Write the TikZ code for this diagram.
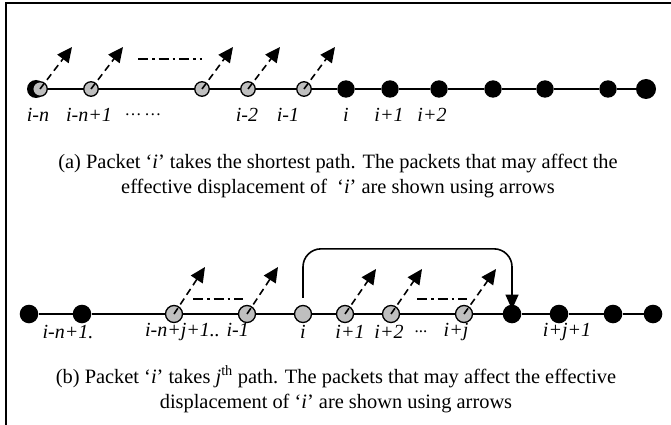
\documentclass[tikz,border=0pt]{standalone}
\usepackage{fontspec}
\setmainfont{Liberation Serif}
\usetikzlibrary{arrows.meta}

\begin{document}
\begin{tikzpicture}[x=1pt,y=-1pt,
  blk/.style={circle,fill=black,inner sep=0pt,minimum size=17.4pt},
  blkbig/.style={circle,fill=black,inner sep=0pt,minimum size=20pt},
  grya/.style={circle,fill=black!25,draw=black,line width=1.3pt,inner sep=0pt,minimum size=14.5pt},
  gryb/.style={circle,fill=black!25,draw=black,line width=1.3pt,inner sep=0pt,minimum size=17pt},
  chain/.style={line width=1.8pt},
  moveto/.style={line width=1.6pt,dash pattern=on 7pt off 4.5pt,
    -{Triangle[length=15pt,width=14pt]}},
  jump/.style={line width=1.6pt,rounded corners=18pt,
    -{Triangle[length=15pt,width=13pt]}},
  dotdash/.style={line width=1.6pt,dash pattern=on 10pt off 4pt on 2.5pt off 4pt},
  lbl/.style={font=\fontsize{20}{22}\selectfont\itshape,inner sep=0pt},
  captext/.style={font=\fontsize{20.4}{25}\selectfont,align=center,inner sep=0pt}]

\useasboundingbox (0,0) rectangle (671,425);

% frame: top rule and left rule
\draw[line width=2.2pt] (5,3) -- (671,3);
\draw[line width=2.2pt] (6,3) -- (6,425);

% ---------------- (a) shortest path ----------------
\node[blk,minimum size=18pt] (a0) at (36,89) {};
\node[grya] (a1) at (40,89) {};
\node[grya] (a2) at (91,89) {};
\node[grya] (a3) at (202,89) {};
\node[grya] (a4) at (248,89) {};
\node[grya] (a5) at (304,89) {};
\node[blk] (a6) at (346,89) {};
\node[blk] (a7) at (390,89) {};
\node[blk] (a8) at (439,89) {};
\node[blk] (a9) at (493,89) {};
\node[blk] (a10) at (545,89) {};
\node[blk] (a11) at (608,89) {};
\node[blkbig] (a12) at (646,89) {};

\foreach \p/\q in {a1/a2,a2/a3,a3/a4,a4/a5,a5/a6,a6/a7,a7/a8,a8/a9,a9/a10,a10/a11,a11/a12}
  \draw[chain] (\p) -- (\q);

\coordinate (ta1) at (72,47);
\coordinate (ta2) at (123,47);
\coordinate (ta3) at (233,47);
\coordinate (ta4) at (280,47);
\coordinate (ta5) at (335,47);
\foreach \n in {1,...,5}
  \draw[moveto] (a\n.center) -- (ta\n);

\coordinate (da1) at (138,59);
\coordinate (da2) at (202,59);
\draw[dotdash] (da1) -- (da2);

\node[lbl] (la1) at (38,115) {i-n};
\node[lbl] (la2) at (89,115) {i-n+1};
\node[lbl] (la3) at (143,115) {\upshape\fontsize{17}{18}\selectfont …\,…};
\node[lbl] (la4) at (247,115) {i-2};
\node[lbl] (la5) at (288,115) {i-1};
\node[lbl] (la6) at (346,115) {i};
\node[lbl] (la7) at (389,115) {i+1};
\node[lbl] (la8) at (432,115) {i+2};

\node[captext] (capa) at (338,176) {(a) Packet ‘\textit{i}’ takes the shortest path. The packets that may affect the\\
effective displacement of \ ‘\textit{i}’ are shown using arrows};

% ---------------- (b) j-th path ----------------
\node[blk,minimum size=18.6pt] (b1) at (29,314) {};
\node[blk,minimum size=18.6pt] (b2) at (82,314) {};
\node[gryb] (b3) at (174,314) {};
\node[gryb] (b4) at (247,314) {};
\node[gryb] (b5) at (303,314) {};
\node[gryb] (b6) at (345,314) {};
\node[gryb] (b7) at (391,314) {};
\node[gryb] (b8) at (464,314) {};
\node[blk,minimum size=18.6pt] (b9) at (512,314) {};
\node[blk,minimum size=18.6pt] (b10) at (559,314) {};
\node[blk,minimum size=18.6pt] (b11) at (613,314) {};
\node[blk,minimum size=18.6pt] (b12) at (653,314) {};

\foreach \p/\q in {b1/b2,b2/b3,b3/b4,b4/b5,b5/b6,b6/b7,b7/b8,b8/b9,b9/b10,b10/b11,b11/b12}
  \draw[chain] (\p) -- (\q);

\coordinate (tb3) at (205,267);
\coordinate (tb4) at (278,267);
\coordinate (tb6) at (376,269);
\coordinate (tb7) at (422,269);
\coordinate (tb8) at (496,269);
\foreach \n in {3,4,6,7,8}
  \draw[moveto] (b\n.center) -- (tb\n);

\coordinate (db1) at (193,299);
\coordinate (db2) at (243,299);
\coordinate (db3) at (417,299);
\coordinate (db4) at (467,299);
\draw[dotdash] (db1) -- (db2);
\draw[dotdash] (db3) -- (db4);

% packet i jumps past i+j
\draw[jump] (b5.north) ++(0,-7) -- ++(0,-49) -| ([yshift=-5pt]b9.north);

\node[lbl] (lb1) at (68,332) {i-n+1.};
\node[lbl] (lb2) at (197,332) {i-n+j+1.. i-1};
\node[lbl] (lb3) at (303,332) {i};
\node[lbl] (lb4) at (350,332) {i+1};
\node[lbl] (lb5) at (389,332) {i+2};
\node[lbl] (lb6) at (421,332) {\upshape\fontsize{17}{18}\selectfont ...};
\node[lbl] (lb7) at (456,332) {i+j};
\node[lbl] (lb8) at (567,332) {i+j+1};

\node[captext] (capb) at (336,389) {(b) Packet ‘\textit{i}’ takes \textit{j}\textsuperscript{th} path. The packets that may affect the effective\\
displacement of ‘\textit{i}’ are shown using arrows};

\end{tikzpicture}
\end{document}
